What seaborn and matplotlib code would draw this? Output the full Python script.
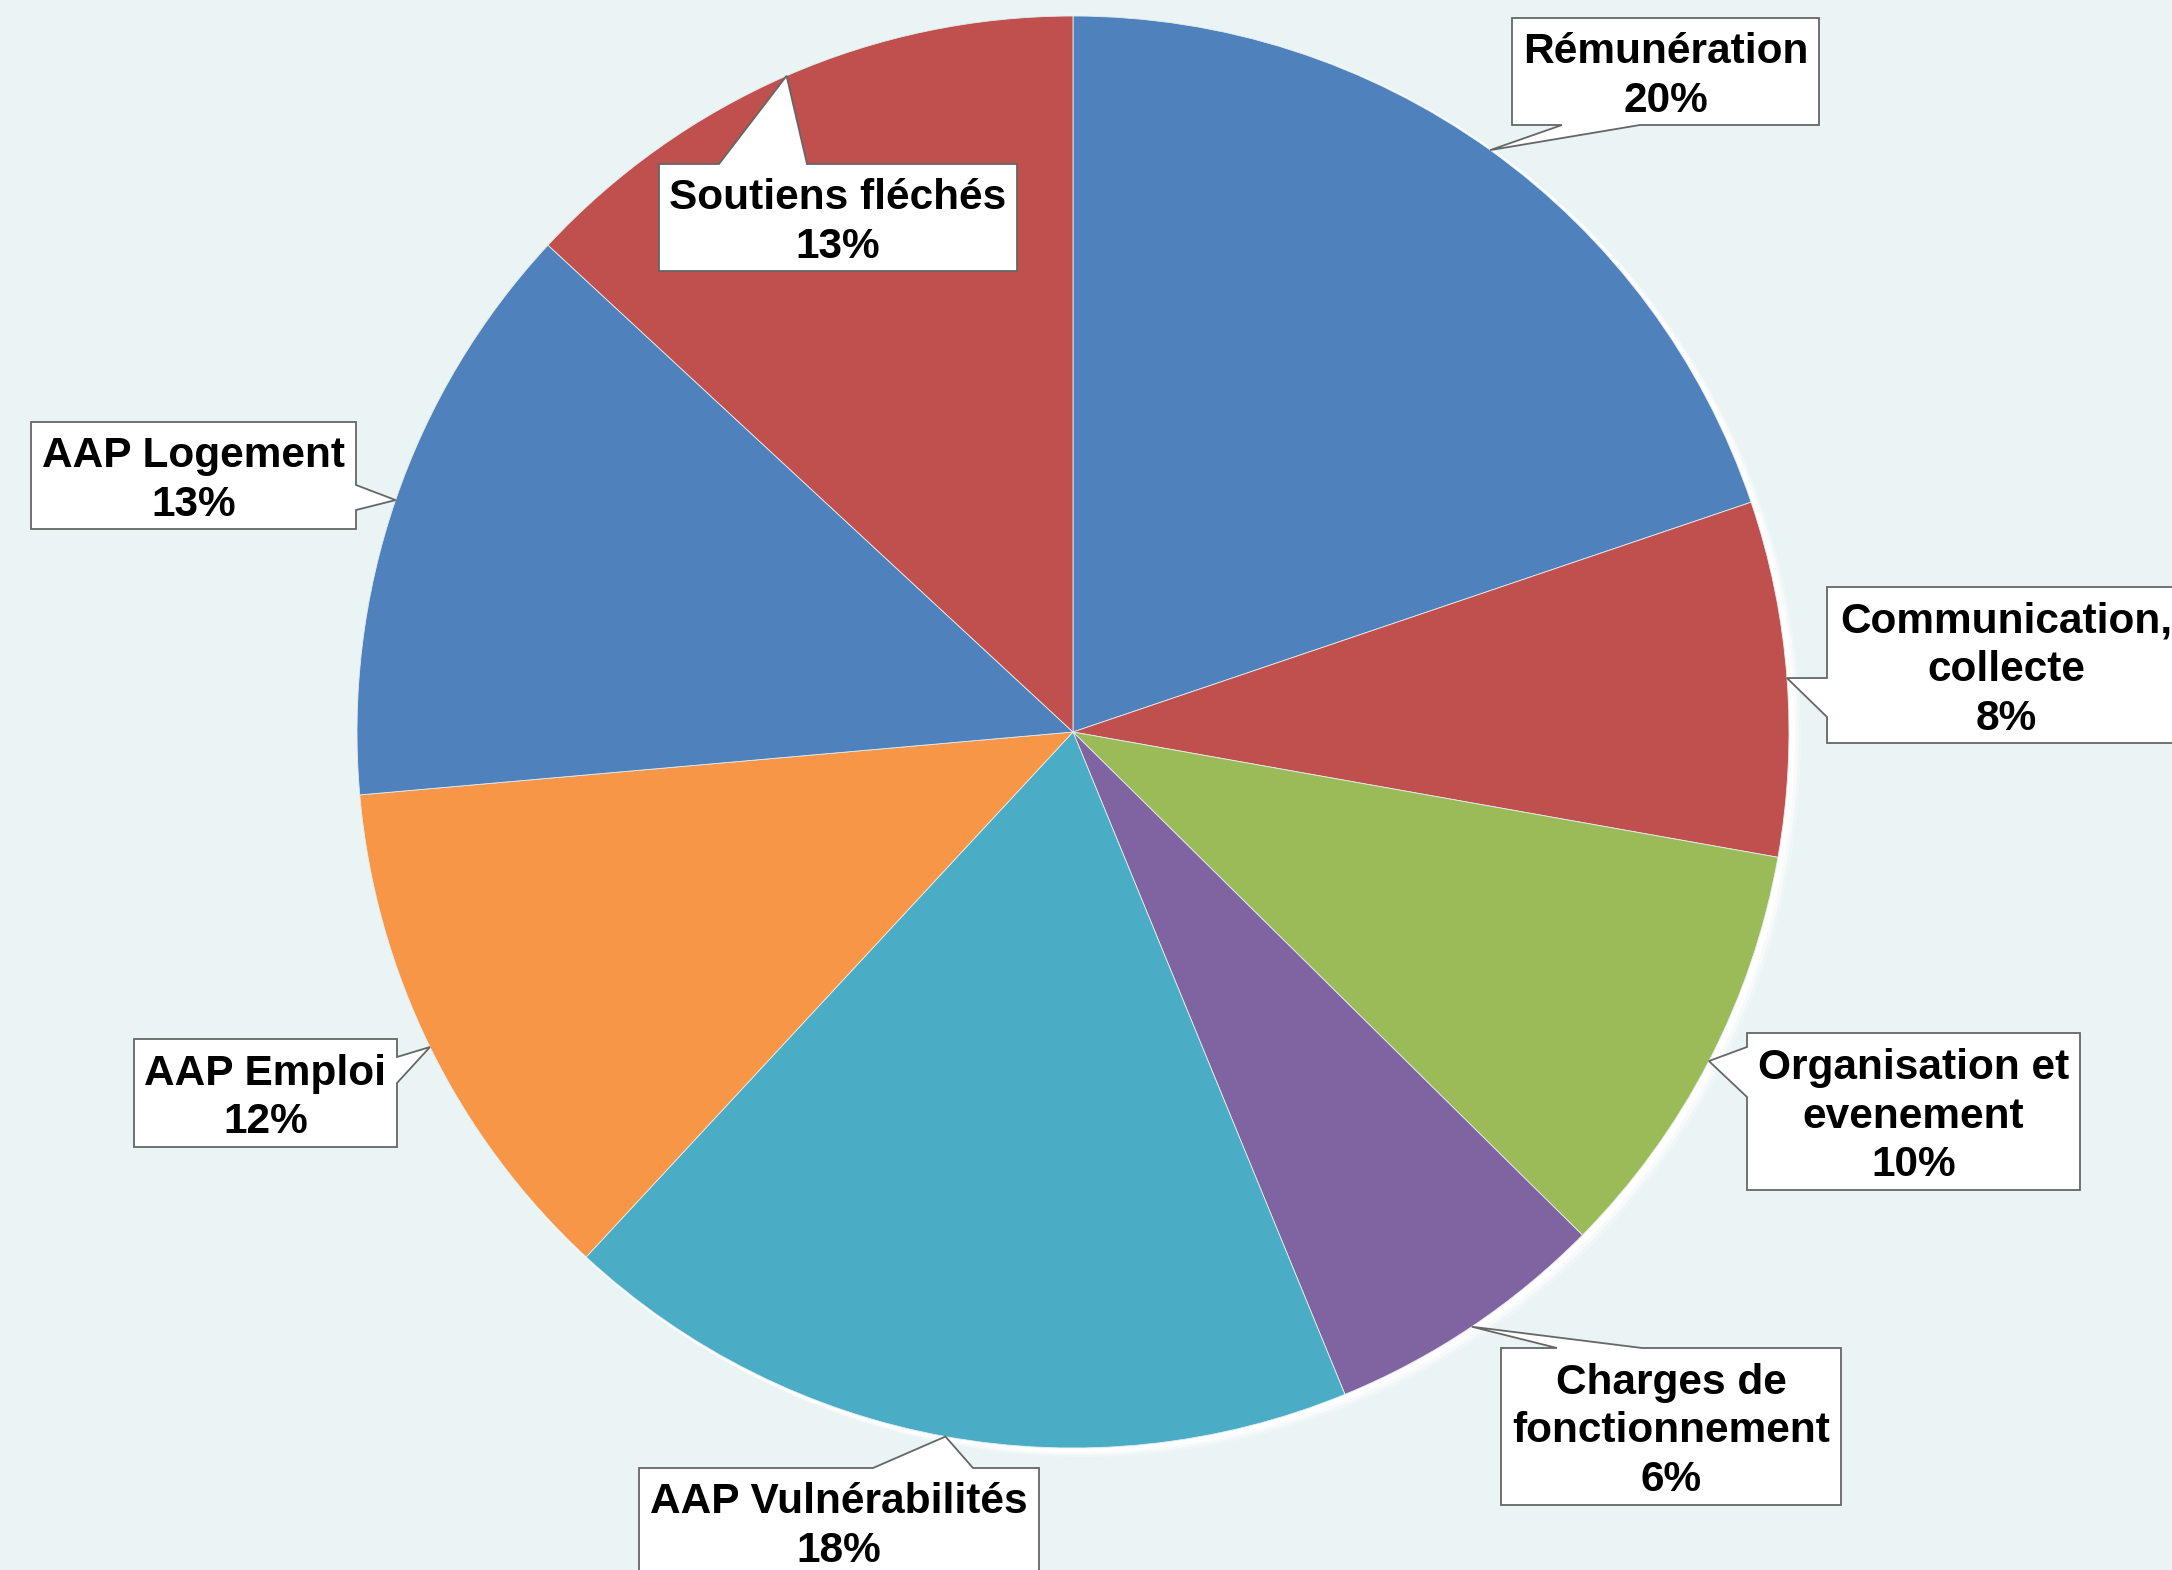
import matplotlib
matplotlib.use("Agg")
import matplotlib.pyplot as plt
from matplotlib.patches import Polygon, Circle
import numpy as np
import seaborn as sns

# data (clockwise from 12 o'clock)
categories = ["Rémunération", "Communication,\ncollecte", "Organisation et\nevenement",
              "Charges de\nfonctionnement", "AAP Vulnérabilités", "AAP Emploi",
              "AAP Logement", "Soutiens fléchés"]
shares = [19.8, 8.0, 9.6, 6.4, 18.1, 11.7, 13.3, 13.1]
slice_colors = ["#4F81BD", "#C0504D", "#9BBB59", "#8064A2",
                "#4BACC6", "#F79646", "#4F81BD", "#C0504D"]

# label boxes in pixel coords (y down): x0, y0, x1, y1, pointer side, pointer base
boxes = [
    (1512, 18, 1819, 125, "bottom", (1562, 1640)),
    (1827, 587, 2185, 743, "left", (678, 717)),
    (1747, 1033, 2080, 1190, "left", (1047, 1097)),
    (1501, 1348, 1841, 1505, "top", (1557, 1642)),
    (639, 1468, 1039, 1575, "top", (873, 973)),
    (134, 1039, 397, 1147, "right", (1057, 1083)),
    (31, 422, 356, 529, "right", (485, 510)),
    (659, 164, 1017, 271, "top", (719, 807)),
]

W, H = 2172, 1570
cx, cy, R = 1073, 732, 716
bg = "#EAF4F5"

sns.set_style("white")
plt.rcParams["font.family"] = ["Liberation Sans", "DejaVu Sans"]

fig = plt.figure(figsize=(W / 100, H / 100), dpi=100, facecolor=bg)
ax = fig.add_axes([0, 0, 1, 1])
ax.set_facecolor(bg)

# soft white halo offset to the lower right
for k, a in [(10, 0.25), (7, 0.5), (4, 0.9)]:
    ax.add_patch(Circle((cx + k, H - cy - k * 0.7), R + 2, color="white", alpha=a, lw=0, zorder=0))

palette = sns.color_palette(slice_colors)
wedges, _ = ax.pie(shares, colors=palette, startangle=90, counterclock=False,
                   center=(cx, H - cy), radius=R,
                   wedgeprops=dict(edgecolor="#e4ecee", linewidth=0.6))


def callout(box, apex):
    x0, y0, x1, y1, side, (b1, b2) = box
    if side == "bottom":
        pts = [(x0, y0), (x1, y0), (x1, y1), (b2, y1), apex, (b1, y1), (x0, y1)]
    elif side == "top":
        pts = [(x0, y0), (b1, y0), apex, (b2, y0), (x1, y0), (x1, y1), (x0, y1)]
    elif side == "left":
        pts = [(x0, y0), (x1, y0), (x1, y1), (x0, y1), (x0, b2), apex, (x0, b1)]
    else:
        pts = [(x0, y0), (x1, y0), (x1, b1), apex, (x1, b2), (x1, y1), (x0, y1)]
    pts = [(x, H - y) for x, y in pts]
    ax.add_patch(Polygon(pts, closed=True, facecolor="white", edgecolor="#666666",
                         linewidth=1.3, zorder=5))


for w, name, share, box in zip(wedges, categories, shares, boxes):
    mid = np.deg2rad((w.theta1 + w.theta2) / 2)
    apex = (cx + R * np.cos(mid), cy - R * np.sin(mid))
    callout(box, apex)
    x0, y0, x1, y1 = box[:4]
    ax.text((x0 + x1) / 2, H - (y0 + y1) / 2 - 5, f"{name}\n{share:.0f}%",
            ha="center", va="center", multialignment="center",
            fontsize=30.5, fontweight="bold", color="black", linespacing=1.28, zorder=6)

ax.set_xlim(0, W)
ax.set_ylim(0, H)
ax.set_aspect("auto")
ax.axis("off")

fig.savefig("out.png", dpi=100, facecolor=bg)
